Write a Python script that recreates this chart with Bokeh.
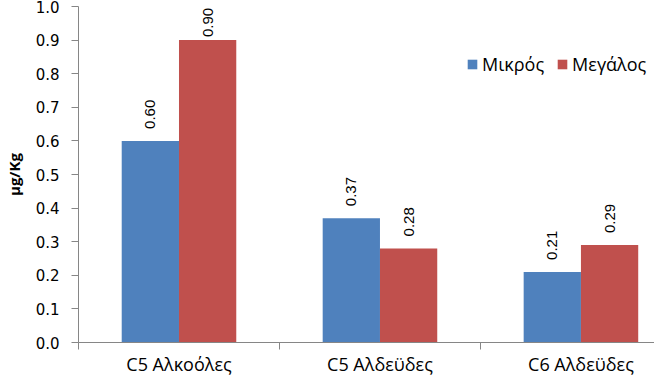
import math
from bokeh.plotting import figure
from bokeh.models import (Range1d, FixedTicker, ColumnDataSource, LabelSet,
                          Legend, LegendItem, PrintfTickFormatter)
from bokeh.core.properties import value
from bokeh.embed import file_html
from bokeh.resources import INLINE

categories = ["C5 Αλκοόλες", "C5 Αλδεϋδες", "C6 Αλδεϋδες"]
series_names = ["Μικρός", "Μεγάλος"]
mikros = [0.60, 0.37, 0.21]
megalos = [0.90, 0.28, 0.29]
y_ticks = [0.0, 0.1, 0.2, 0.3, 0.4, 0.5, 0.6, 0.7, 0.8, 0.9, 1.0]
colors = ["#4F81BD", "#C0504D"]

bar_w = 0.285
centers = [i + 0.5 for i in range(len(categories))]

p = figure(frame_width=576, frame_height=336, output_backend="svg", toolbar_location=None,
           x_range=Range1d(0, 2.866), y_range=Range1d(0, 1.0),
           min_border_left=74, min_border_right=0, min_border_top=6,
           min_border_bottom=24)
p.outline_line_color = None
p.xgrid.visible = False
p.ygrid.visible = False
p.background_fill_color = "white"

items = []
for k, (vals, name, col) in enumerate(zip([mikros, megalos], series_names, colors)):
    off = (-0.5 + k) * bar_w
    xs = [c + off for c in centers]
    # labels close to the top of the chart are pulled down towards their bar
    offs = [12 if v < 0.8 else 3 for v in vals]
    src = ColumnDataSource(dict(x=xs, top=vals, text=[f"{v:.2f}" for v in vals], off=offs))
    r = p.vbar(x="x", top="top", width=bar_w, source=src, fill_color=col, line_color=None)
    items.append(LegendItem(label=name, renderers=[r]))
    lbl = LabelSet(x="x", y="top", text="text", source=src, angle=math.pi / 2,
                   text_align="left", text_baseline="middle", y_offset="off",
                   text_font=value("Liberation Sans"), text_font_size=value("15px"),
                   text_color="black")
    p.add_layout(lbl)

axis_col = "#868686"
ya = p.yaxis[0]
ya.ticker = FixedTicker(ticks=y_ticks, minor_ticks=[])
ya.formatter = PrintfTickFormatter(format="%.1f")
ya.axis_line_color = axis_col
ya.major_tick_line_color = axis_col
ya.major_tick_out = 7
ya.major_tick_in = 0
ya.minor_tick_line_color = None
ya.major_label_text_font = "DejaVu Sans"
ya.major_label_text_font_size = "15px"
ya.major_label_text_color = "black"
ya.major_label_standoff = 12
ya.axis_label = "μg/Kg"
ya.axis_label_text_font = "Open Sans"
ya.axis_label_text_font_style = "bold"
ya.axis_label_text_font_size = "15px"
ya.axis_label_text_color = "black"
ya.axis_label_standoff = 9

xa = p.xaxis[0]
xa.ticker = FixedTicker(ticks=centers, minor_ticks=[float(i) for i in range(len(categories) + 1)])
xa.major_label_overrides = {c: cat for c, cat in zip(centers, categories)}
xa.axis_line_color = axis_col
xa.major_tick_line_color = None
xa.major_tick_out = 0
xa.major_tick_in = 0
xa.minor_tick_line_color = axis_col
xa.minor_tick_out = 7
xa.minor_tick_in = 0
xa.major_label_text_font = "Open Sans"
xa.major_label_text_font_size = "18px"
xa.major_label_text_color = "black"
xa.major_label_standoff = 2

legend = Legend(items=items, orientation="horizontal", location=(388, 266),
                glyph_width=12, glyph_height=12, label_standoff=4, spacing=12,
                padding=0, margin=0, border_line_color=None,
                background_fill_alpha=0, label_text_font="Open Sans",
                label_text_font_size="18px", label_text_color="black")
p.add_layout(legend)

open("out.html", "w").write(file_html(p, INLINE))
